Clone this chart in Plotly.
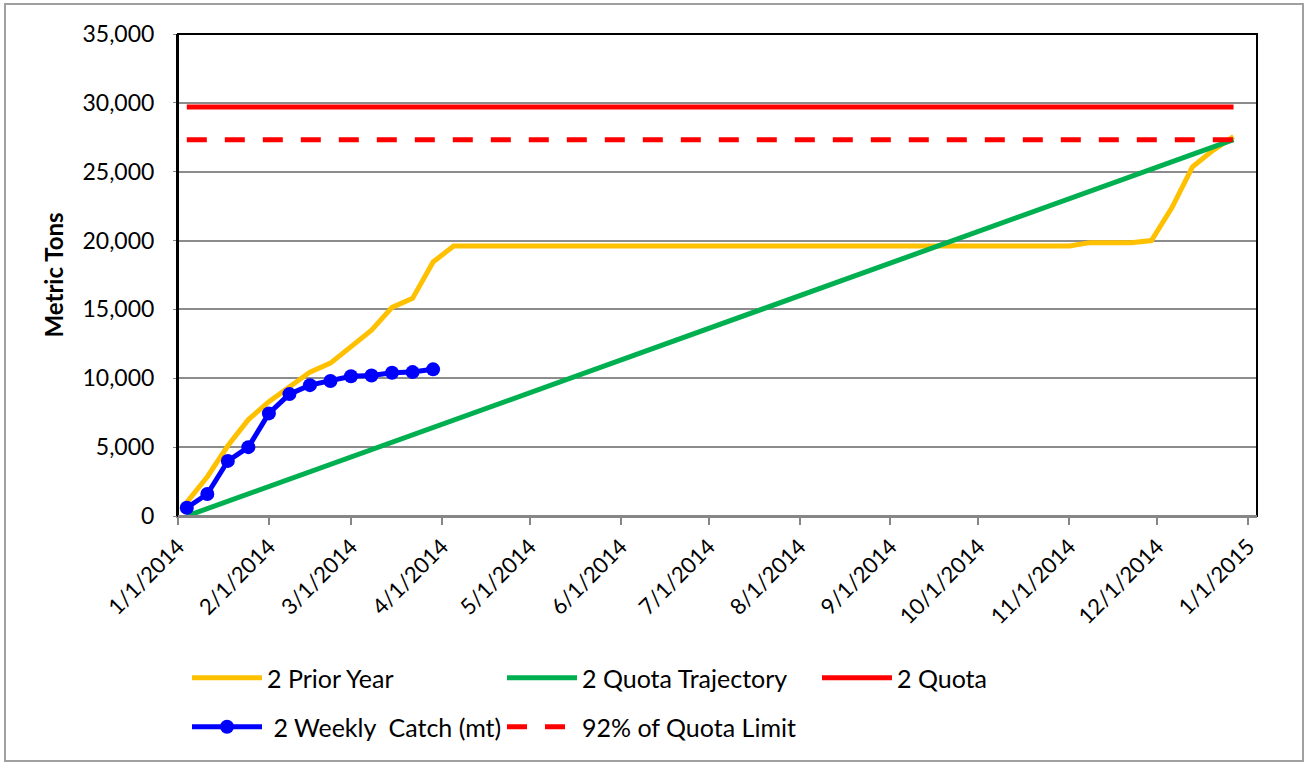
import pandas as pd
import plotly.graph_objects as go

# ---- data ----
week_dates = pd.date_range("2014-01-04", periods=52, freq="7D")

prior_year = [1000, 2850, 5100, 7000, 8300, 9350, 10450, 11100, 12300, 13500,
              15150, 15800, 18450, 19600] + [19600] * 30 + \
             [19850, 19850, 19850, 20000, 22400, 25350, 26550, 27550]

catch_dates = week_dates[:13]
weekly_catch = [600, 1600, 4000, 5000, 7450, 8850, 9500, 9800, 10150,
                10200, 10400, 10450, 10650]

quota = 29700
limit_pct = 0.92
traj_dates = [week_dates[0], week_dates[-1]]
traj_values = [0, quota * limit_pct]

tick_dates = pd.date_range("2014-01-01", "2015-01-01", freq="MS")
tick_labels = [f"{d.month}/{d.day}/{d.year}" for d in tick_dates]

FONT = "Lato"
L, R, T, B = 178, 1257, 34, 516
W, H = 1307, 763
PW, PH = R - L, B - T

fig = go.Figure()
fig.add_trace(go.Scatter(x=week_dates, y=prior_year, mode="lines",
                         name="2 Prior Year", legend="legend",
                         line=dict(color="#FFC000", width=5)))
fig.add_trace(go.Scatter(x=traj_dates, y=traj_values, mode="lines",
                         name="2 Quota Trajectory", legend="legend",
                         line=dict(color="#00B050", width=5)))
fig.add_trace(go.Scatter(x=traj_dates, y=[quota, quota], mode="lines",
                         name="2 Quota", legend="legend",
                         line=dict(color="#FF0000", width=5)))
fig.add_trace(go.Scatter(x=catch_dates, y=weekly_catch, mode="lines+markers",
                         name="&nbsp;2 Weekly&nbsp; Catch (mt)", legend="legend2",
                         line=dict(color="#0000FF", width=5),
                         marker=dict(color="#0000FF", size=14)))
fig.add_trace(go.Scatter(x=traj_dates, y=[quota * limit_pct] * 2, mode="lines",
                         name="92% of Quota Limit", legend="legend2",
                         line=dict(color="#FF0000", width=5, dash="20px,18px")))

leg_common = dict(orientation="h", xanchor="left", yanchor="middle",
                  entrywidth=230, entrywidthmode="pixels", itemwidth=70,
                  font=dict(family=FONT, size=25), bgcolor="rgba(0,0,0,0)")

fig.update_layout(
    width=W, height=H,
    margin=dict(l=L, r=W - R, t=T, b=H - B),
    paper_bgcolor="white", plot_bgcolor="white",
    font=dict(family=FONT, size=22, color="black"),
    showlegend=True,
    legend=dict(x=(187 - L) / PW, y=(B - 678) / PH, **leg_common),
    legend2=dict(x=(187 - L) / PW, y=(B - 727) / PH, **leg_common),
    xaxis=dict(type="date", range=["2014-01-01", "2015-01-04"],
               tickvals=tick_dates, ticktext=tick_labels, tickangle=-45,
               showgrid=False, showline=True, linecolor="#868686", linewidth=2,
               ticks="outside", ticklen=7, tickcolor="#868686", tickwidth=1.5,
               tickfont=dict(family=FONT, size=22), zeroline=False),
    yaxis=dict(range=[0, 35000], dtick=5000, tickformat=",",
               showgrid=True, gridcolor="#8C8C8C", gridwidth=1.5,
               showline=True, linecolor="black", linewidth=2,
               ticks="outside", ticklen=3, tickcolor="#868686",
               ticklabelstandoff=14,
               tickfont=dict(family=FONT, size=23), zeroline=False,
               title=dict(text="<b>Metric Tons</b>", font=dict(family=FONT, size=24),
                          standoff=12)),
    shapes=[
        dict(type="rect", xref="paper", yref="paper", x0=0, x1=1, y0=0, y1=1,
             line=dict(color="black", width=2), layer="above"),
        dict(type="line", xref="paper", yref="paper", x0=0, x1=1, y0=0, y1=0,
             line=dict(color="#868686", width=2), layer="above"),
        dict(type="rect", xref="paper", yref="paper",
             x0=(5 - L) / PW, x1=(1303 - L) / PW,
             y0=(B - 761) / PH, y1=(B - 4) / PH,
             line=dict(color="#A0A0A0", width=2)),
    ],
)

fig.write_html("out.html", config={"displayModeBar": False},
               post_script="document.body.style.margin='0';document.body.style.overflow='hidden';")
